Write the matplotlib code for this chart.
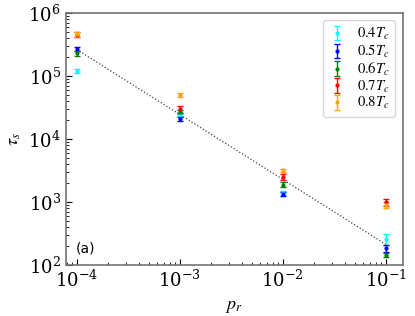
import numpy as np
import matplotlib
matplotlib.use('Agg')
import matplotlib.pyplot as plt

plt.rcParams['font.family'] = 'serif'
plt.rcParams['font.serif'] = ['DejaVu Serif']
plt.rcParams['mathtext.fontset'] = 'stix'

# data
p_r = [1e-4, 1e-3, 1e-2, 1e-1]
temps = ['0.4', '0.5', '0.6', '0.7', '0.8']
colors = ['cyan', 'blue', 'green', 'red', 'orange']

tau_04 = [1.2e5, 2.5e4, 1.4e3, 260]
tau_05 = [2.7e5, 2.1e4, 1.35e3, 185]
tau_06 = [2.3e5, 2.7e4, 1.9e3, 145]
tau_07 = [4.5e5, 3.0e4, 2.5e3, 1.0e3]
tau_08 = [4.6e5, 5.0e4, 3.2e3, 900]

err_04 = [0.1e5, 0.2e4, 0.1e3, 50]
err_05 = [0.2e5, 0.15e4, 0.1e3, 25]
err_06 = [0.2e5, 0.2e4, 0.15e3, 12]
err_07 = [0.4e5, 0.4e4, 0.25e3, 120]
err_08 = [0.4e5, 0.3e4, 0.15e3, 100]

# power-law fit tau = A * p^-b
fit_A = 2.0e1
fit_b = 1.03
fit_x = [1e-4, 1e-1]

taus = [tau_04, tau_05, tau_06, tau_07, tau_08]
errs = [err_04, err_05, err_06, err_07, err_08]

fig = plt.figure(figsize=(4.15, 3.16), dpi=100)
ax = fig.add_axes([0.158, 0.161, 0.812, 0.798])

fx = np.array(fit_x)
ax.plot(fx, fit_A * fx ** (-fit_b), ls=':', color='0.25', lw=0.9, zorder=1)

for t, c, y, e in zip(temps, colors, taus, errs):
    ax.errorbar(p_r, y, yerr=e, fmt='.', color=c, ms=4, capsize=2.5,
                elinewidth=1, capthick=1, label=r'$%sT_c$' % t)

ax.set_xscale('log')
ax.set_yscale('log')
ax.set_xlim(7.8e-5, 0.146)
ax.set_ylim(1e2, 1e6)

ax.set_xlabel(r'$p_r$', fontsize=13)
ax.set_ylabel(r'$\tau_s$', fontsize=13)
ax.tick_params(which='both', direction='in', labelsize=13)
ax.tick_params(which='major', length=4)
ax.tick_params(which='minor', length=2)
for s in ax.spines.values():
    s.set_color('0.45')
    s.set_linewidth(1.2)

ax.text(0.03, 0.05, '(a)', transform=ax.transAxes, fontsize=10,
        family='DejaVu Sans')

ax.legend(loc='upper right', fontsize=10.5, labelspacing=0.05,
          handlelength=1.1, handletextpad=0.8, borderpad=0.4,
          edgecolor='0.8')

fig.savefig('out.png', dpi=100)
